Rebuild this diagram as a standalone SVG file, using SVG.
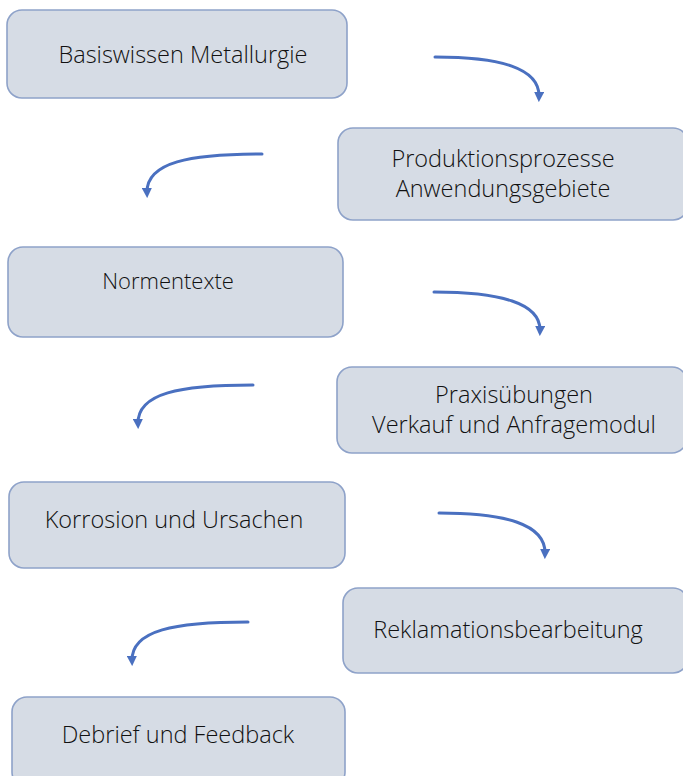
<svg xmlns="http://www.w3.org/2000/svg" width="683" height="776" viewBox="0 0 683 776">
<style>
.box{fill:#d6dce5;stroke:#8ea2c9;stroke-width:1.6}
.t{font-family:"Open Sans","Liberation Sans",sans-serif;font-size:23.5px;font-weight:300;fill:#111111;text-anchor:middle}
.arr{fill:none;stroke:#4a70c0;stroke-width:3;stroke-linecap:round;marker-end:url(#ah)}
</style>
<defs>
<marker id="ah" viewBox="0 0 10 10" refX="5" refY="5" markerWidth="3.4" markerHeight="3.4" orient="auto" markerUnits="strokeWidth">
<path d="M0,0 L10,5 L0,10 z" fill="#4a70c0"/>
</marker>
</defs>
<rect width="683" height="776" fill="#ffffff"/>
<g id="connectors">
<path class="arr" d="M435,57 C500,57 540,68 539,97"/>
<path class="arr" d="M262,154 C190,154 146,162 147,193"/>
<path class="arr" d="M434,292 C500,292 541,303 540,331"/>
<path class="arr" d="M253,385 C180,385 137,393 138,424"/>
<path class="arr" d="M439,513 C505,513 546,524 545,554"/>
<path class="arr" d="M248,622 C175,622 131,630 132,661"/>
</g>
<g id="n1"><rect class="box" x="7" y="10" width="340" height="88" rx="15"/><text class="t" x="183" y="63">Basiswissen Metallurgie</text></g>
<g id="n2"><rect class="box" x="338" y="128" width="350" height="92" rx="15"/><text class="t" x="503" y="167">Produktionsprozesse</text><text class="t" x="503" y="197">Anwendungsgebiete</text></g>
<g id="n3"><rect class="box" x="8" y="247" width="335" height="90" rx="15"/><text class="t" x="168" y="289" style="font-size:22px">Normentexte</text></g>
<g id="n4"><rect class="box" x="337" y="367" width="350" height="86" rx="15"/><text class="t" x="514" y="403">Praxisübungen</text><text class="t" x="514" y="433">Verkauf und Anfragemodul</text></g>
<g id="n5"><rect class="box" x="9" y="482" width="336" height="86" rx="15"/><text class="t" x="174" y="528">Korrosion und Ursachen</text></g>
<g id="n6"><rect class="box" x="343" y="588" width="345" height="85" rx="15"/><text class="t" x="508" y="638">Reklamationsbearbeitung</text></g>
<g id="n7"><rect class="box" x="12" y="697" width="333" height="90" rx="15"/><text class="t" x="178" y="743">Debrief und Feedback</text></g>
</svg>
